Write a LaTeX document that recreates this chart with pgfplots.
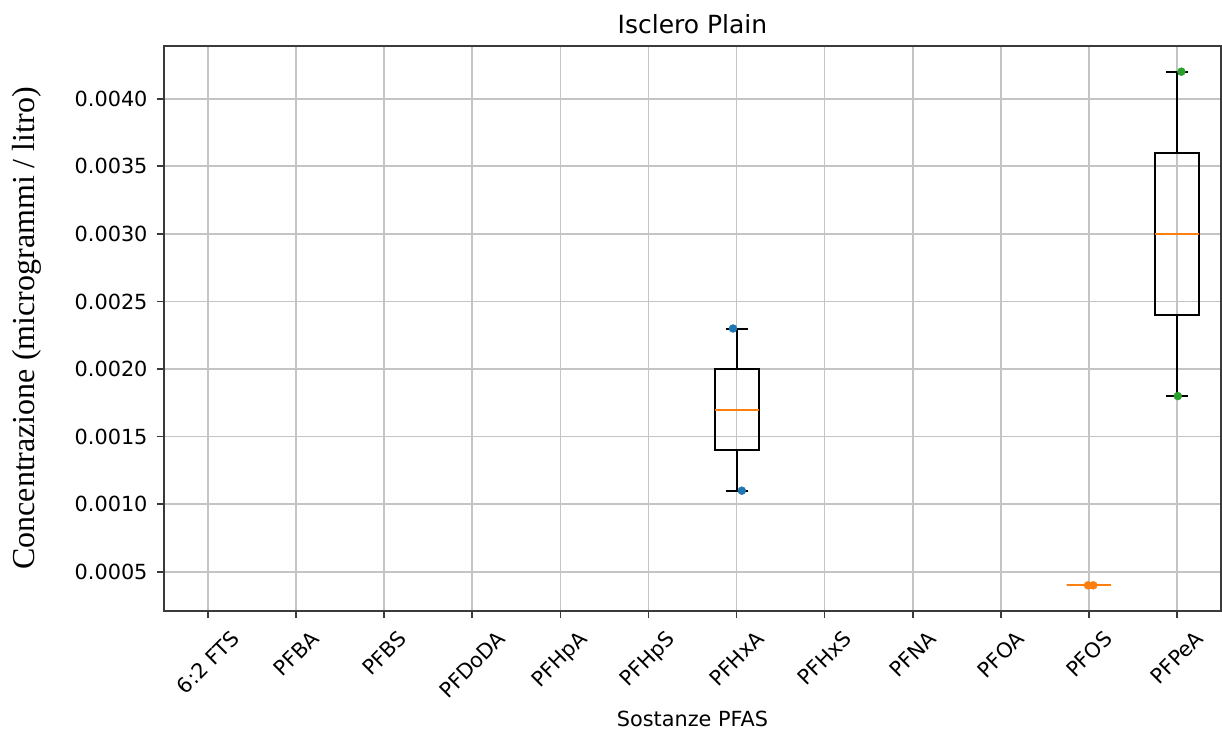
\documentclass[border=0pt]{standalone}
\usepackage{pgfplots}
\pgfplotsset{compat=1.18}
\usepgfplotslibrary{statistics}
\usepackage{graphicx}
\usepackage{fontspec}
\setmainfont{DejaVu Sans}
\newfontfamily\labelserif{Liberation Serif}

\definecolor{mplblue}{HTML}{1F77B4}
\definecolor{mplorange}{HTML}{FF7F0E}
\definecolor{mplgreen}{HTML}{2CA02C}
\definecolor{gridgray}{HTML}{C4C4C4}
\definecolor{spine}{HTML}{3A3A3A}

\newcommand{\tickfont}{\fontsize{20.8}{25}\selectfont}

\begin{document}
\begin{tikzpicture}
\begin{axis}[
  at={(0,0)}, anchor=south west,
  scale only axis,
  width=1057pt, height=565pt,
  xmin=-0.5, xmax=11.5,
  ymin=0.00021, ymax=0.00439,
  xtick={0,1,2,3,4,5,6,7,8,9,10,11},
  xticklabels={
    \rotatebox{45}{6:2 FTS}, \rotatebox{45}{PFBA}, \rotatebox{45}{PFBS},
    \rotatebox{45}{PFDoDA}, \rotatebox{45}{PFHpA}, \rotatebox{45}{PFHpS},
    \rotatebox{45}{PFHxA}, \rotatebox{45}{PFHxS}, \rotatebox{45}{PFNA},
    \rotatebox{45}{PFOA}, \rotatebox{45}{PFOS}, \rotatebox{45}{PFPeA}},
  ytick={0.0005,0.0010,0.0015,0.0020,0.0025,0.0030,0.0035,0.0040},
  scaled y ticks=false,
  yticklabel style={anchor=east, inner sep=0pt, xshift=-9pt, font=\tickfont,
    /pgf/number format/fixed, /pgf/number format/fixed zerofill,
    /pgf/number format/precision=4, /pgf/number format/assume math mode=true},
  xticklabel style={anchor=north, inner sep=0pt, yshift=-11pt, font=\tickfont},
  tick pos=left,
  tick align=outside,
  major tick length=7.3pt,
  tick style={spine, line width=1.6pt},
  axis line style={spine, line width=1.7pt},
  grid=major,
  major grid style={gridgray, line width=1.6pt},
  title={Isclero Plain},
  title style={at={(axis description cs:0.5,1.01062)}, anchor=base,
    font=\fontsize{25}{30}\selectfont},
  xlabel={Sostanze PFAS},
  xlabel style={at={(axis description cs:0.5,-0.20478)}, anchor=base,
    font=\tickfont},
  ylabel={Concentrazione (microgrammi / litro)},
  ylabel style={at={(axis description cs:-0.12299,0.5)}, anchor=base,
    font=\labelserif\fontsize{32}{38}\selectfont},
  boxplot/draw direction=y,
  boxplot/every median/.style={mplorange, line width=2pt},
]

% PFHxA
\addplot[black, line width=2pt, boxplot prepared={draw position=6,
  lower whisker=0.0011, lower quartile=0.0014, median=0.0017,
  upper quartile=0.0020, upper whisker=0.0023,
  box extend=0.5, whisker extend=0.25}] coordinates {};
% PFOS
\addplot[black, line width=2pt, boxplot prepared={draw position=10,
  lower whisker=0.0004, lower quartile=0.0004, median=0.0004,
  upper quartile=0.0004, upper whisker=0.0004,
  box extend=0.5, whisker extend=0.25}] coordinates {};
% PFPeA
\addplot[black, line width=2pt, boxplot prepared={draw position=11,
  lower whisker=0.0018, lower quartile=0.0024, median=0.0030,
  upper quartile=0.0036, upper whisker=0.0042,
  box extend=0.5, whisker extend=0.25}] coordinates {};

% individual measurements
\addplot[only marks, mark=*, mark size=4pt, mark options={draw=mplblue, fill=mplblue}]
  coordinates {(5.96,0.0023) (6.06,0.0011)};
\addplot[only marks, mark=*, mark size=4pt, mark options={draw=mplorange, fill=mplorange}]
  coordinates {(9.99,0.0004) (10.05,0.0004)};
\addplot[only marks, mark=*, mark size=4pt, mark options={draw=mplgreen, fill=mplgreen}]
  coordinates {(11.05,0.0042) (11.01,0.0018)};
\end{axis}
\pgfresetboundingbox
\path[use as bounding box] (-164pt,-120pt) rectangle (1058pt,611pt);
\end{tikzpicture}
\end{document}
